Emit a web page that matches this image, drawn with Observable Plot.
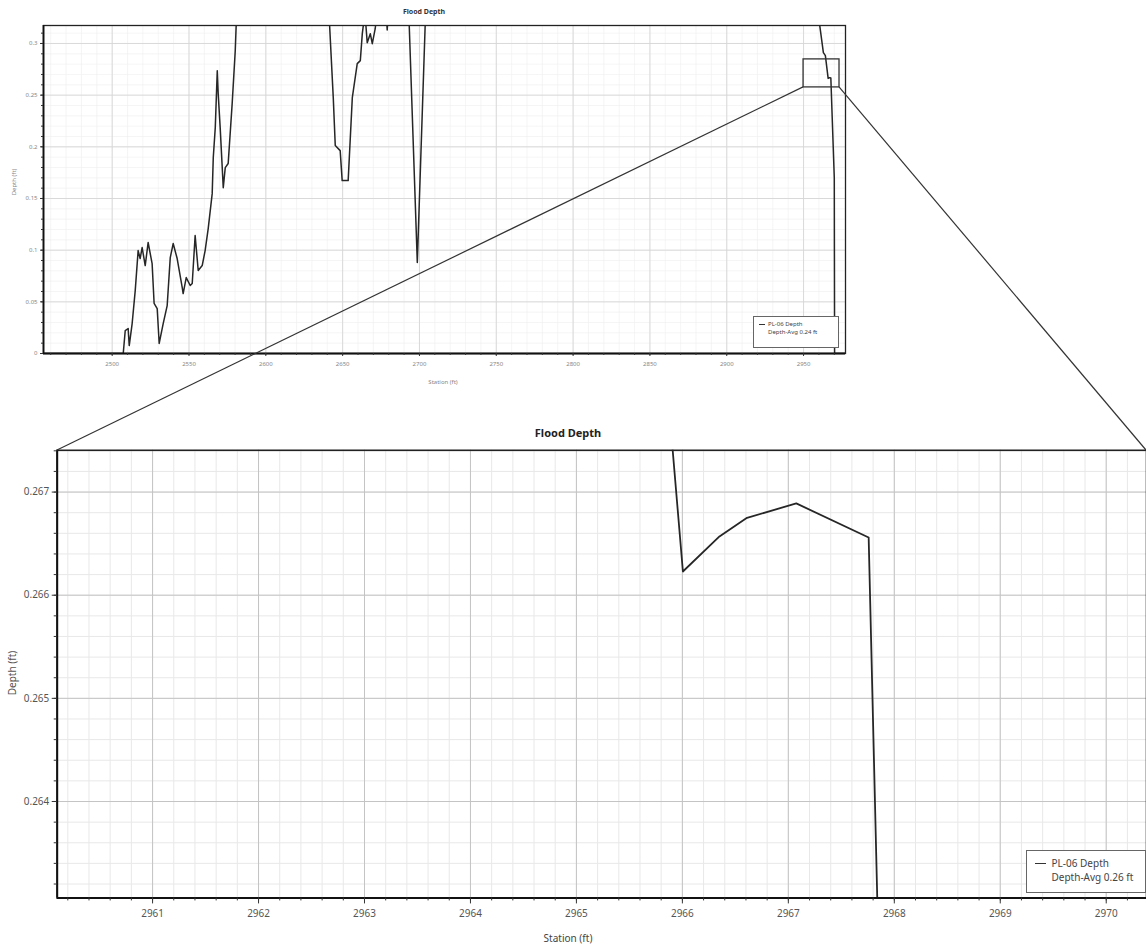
<!DOCTYPE html>
<html><head><meta charset="utf-8">
<script src="https://cdn.jsdelivr.net/npm/d3@7"></script>
<script src="https://cdn.jsdelivr.net/npm/@observablehq/plot@0.6"></script>
<style>
html,body{margin:0;padding:0;background:#fff;overflow:hidden}
#wrap{position:relative;width:1146px;height:949px;overflow:hidden;font-family:"Noto Sans",sans-serif}
#wrap svg{position:absolute}
.t{position:absolute;white-space:nowrap;transform:translate(-50%,-50%);line-height:1}
.lg{position:absolute;border:1px solid #666;background:#fff;box-sizing:border-box;color:#444;line-height:1.45}
.lg .dash{display:inline-block;vertical-align:middle;border-top:1px solid #333}
</style></head><body><div id="wrap"></div>
<script>
// ---- data ----
const station = [2456, 2507.2, 2508.5, 2510.4, 2511.1, 2513.0, 2515.0, 2516.9, 2518.2, 2519.5, 2521.5, 2523.4,
  2526.0, 2527.3, 2529.3, 2530.6, 2533.2, 2535.8, 2537.8, 2539.7, 2542.3, 2545.6, 2546.2, 2548.2, 2550.8,
  2552.1, 2554.0, 2556.0, 2558.6, 2560.5, 2562.5, 2565.1, 2565.8, 2567.1, 2568.4, 2569.0, 2570.3, 2572.3,
  2573.6, 2575.5, 2578.1, 2580.1, 2584, 2637, 2643.9, 2645.2, 2648.4, 2649.7, 2653.6, 2656.3, 2659.5,
  2661.5, 2662.8, 2664.5, 2666.0, 2668.0, 2669.3, 2671.2, 2673, 2678, 2679, 2680, 2691, 2698.6, 2706,
  2958.5, 2962.9, 2964.2, 2966.005, 2966.35, 2966.61, 2967.075, 2967.758, 2970.0, 2970.2, 2977];
const depth = [0, 0, 0.0222, 0.0242, 0.0077, 0.029, 0.0609, 0.0996, 0.0919, 0.1025, 0.0851, 0.1074,
  0.0870, 0.0484, 0.0435, 0.0097, 0.029, 0.0464, 0.0928, 0.1064, 0.0919, 0.0638, 0.058, 0.0735, 0.0658,
  0.0677, 0.1141, 0.0803, 0.0851, 0.0996, 0.1209, 0.1547, 0.1896, 0.2186, 0.2737, 0.2515, 0.2186, 0.1605,
  0.1799, 0.1838, 0.2418, 0.293, 0.45, 0.45, 0.2476, 0.2012, 0.1963, 0.1673, 0.1673, 0.2476, 0.2805,
  0.2834, 0.3095, 0.33, 0.3008, 0.3095, 0.2998, 0.3143, 0.34, 0.34, 0.313, 0.34, 0.42, 0.088, 0.42,
  0.34, 0.2911, 0.2882, 0.26623, 0.26657, 0.26675, 0.26689, 0.266559, 0.17, 0, 0];

const overviewXTicks = [2500, 2550, 2600, 2650, 2700, 2750, 2800, 2850, 2900, 2950];
const overviewYTicks = [0, 0.05, 0.1, 0.15, 0.2, 0.25, 0.3];
const overviewXDomain = [2455.3, 2977.3];
const overviewYDomain = [0, 0.3174];

const zoomXTicks = [2961, 2962, 2963, 2964, 2965, 2966, 2967, 2968, 2969, 2970];
const zoomYTicks = [0.264, 0.265, 0.266, 0.267];
const zoomXDomain = [2960.10, 2970.38];
const zoomYDomain = [0.263065, 0.267405];

const zoomBoxX = [2950, 2973.4];
const zoomBoxY = [0.2575, 0.2846];

const chartTitle = "Flood Depth";
const xTitle = "Station (ft)";
const yTitle = "Depth (ft)";
const seriesName = "PL-06 Depth";
const overviewAvg = "Depth-Avg 0.24 ft";
const zoomAvg = "Depth-Avg 0.26 ft";

const data = station.map((s, i) => ({station: s, depth: depth[i]}));
const FONT = '"Noto Sans", sans-serif';
const PAGE_W = 1146;
const wrap = document.getElementById("wrap");

function rng(a, b, step) { const n = Math.round((b - a) / step); return d3.range(n + 1).map(i => +(a + i * step).toFixed(6)); }

// ---- overview chart ----
const ovPlot = Plot.plot({
  width: 860, height: 392,
  marginLeft: 43, marginRight: 15, marginTop: 25, marginBottom: 39,
  style: {fontFamily: FONT, fontSize: "6px", color: "#888", background: "transparent", overflow: "visible"},
  x: {domain: overviewXDomain, label: null},
  y: {domain: overviewYDomain, label: null},
  marks: [
    Plot.gridX(rng(2460, 2970, 10), {stroke: "#eeeeee", strokeOpacity: 1, strokeWidth: 0.6}),
    Plot.gridY(rng(0.01, 0.31, 0.01), {stroke: "#eeeeee", strokeOpacity: 1, strokeWidth: 0.6}),
    Plot.gridX(overviewXTicks, {stroke: "#d6d6d6", strokeOpacity: 1, strokeWidth: 0.9}),
    Plot.gridY(overviewYTicks, {stroke: "#d6d6d6", strokeOpacity: 1, strokeWidth: 0.9}),
    Plot.line(data, {x: "station", y: "depth", stroke: "#262626", strokeWidth: 1.5, clip: true}),
    Plot.rect([{}], {x1: () => zoomBoxX[0], x2: () => zoomBoxX[1], y1: () => zoomBoxY[0], y2: () => zoomBoxY[1], fill: "none", stroke: "#333", strokeWidth: 1.3}),
    Plot.frame({stroke: "#222", strokeWidth: 1.3}),
    Plot.ruleX([overviewXDomain[0]], {stroke: "#111", strokeWidth: 1.8}),
    Plot.ruleY([overviewYDomain[0]], {stroke: "#111", strokeWidth: 1.8}),
    Plot.axisX({ticks: rng(2460, 2970, 10), tickSize: 2, tickFormat: () => "", label: null, stroke: "#333"}),
    Plot.axisY({ticks: rng(0.01, 0.31, 0.01), tickSize: 2, tickFormat: () => "", label: null, stroke: "#333"}),
    Plot.axisX({ticks: overviewXTicks, tickSize: 3, tickPadding: 5, tickFormat: d => String(d), label: null, stroke: "#333", fill: "#888"}),
    Plot.axisY({ticks: overviewYTicks, tickSize: 3, tickPadding: 3, tickFormat: d => String(d), label: null, stroke: "#333", fill: "#888"})
  ]
});
ovPlot.style.left = "0px"; ovPlot.style.top = "0px";
wrap.appendChild(ovPlot);

// ---- zoomed chart ----
const BOT_TOP = 410;
const zmPlot = Plot.plot({
  width: 1152, height: 539,
  marginLeft: 57, marginRight: 0, marginTop: 40, marginBottom: 49,
  style: {fontFamily: FONT, fontSize: "10px", color: "#555", background: "transparent", overflow: "visible"},
  x: {domain: zoomXDomain, label: null},
  y: {domain: zoomYDomain, label: null},
  marks: [
    Plot.gridX(rng(2960.2, 2970.2, 0.2), {stroke: "#e8e8e8", strokeOpacity: 1, strokeWidth: 1}),
    Plot.gridY(rng(0.2632, 0.2674, 0.0002), {stroke: "#e8e8e8", strokeOpacity: 1, strokeWidth: 1}),
    Plot.gridX(zoomXTicks, {stroke: "#c4c4c4", strokeOpacity: 1, strokeWidth: 1}),
    Plot.gridY(zoomYTicks, {stroke: "#c4c4c4", strokeOpacity: 1, strokeWidth: 1}),
    Plot.line(data, {x: "station", y: "depth", stroke: "#262626", strokeWidth: 1.8, clip: true}),
    Plot.frame({stroke: "#222", strokeWidth: 1.6}),
    Plot.ruleX([zoomXDomain[0]], {stroke: "#111", strokeWidth: 2}),
    Plot.ruleY([zoomYDomain[0]], {stroke: "#111", strokeWidth: 2}),
    Plot.axisX({ticks: rng(2960.2, 2970.2, 0.2), tickSize: 3, tickFormat: () => "", label: null, stroke: "#333"}),
    Plot.axisY({ticks: rng(0.2632, 0.2674, 0.0002), tickSize: 3, tickFormat: () => "", label: null, stroke: "#333"}),
    Plot.axisX({ticks: zoomXTicks, tickSize: 6, tickPadding: 6, tickFormat: d => String(d), label: null, stroke: "#333", fill: "#555"}),
    Plot.axisY({ticks: zoomYTicks, tickSize: 5, tickPadding: 3, tickFormat: d3.format(".3f"), label: null, stroke: "#333", fill: "#555"})
  ]
});
zmPlot.style.left = "0px"; zmPlot.style.top = BOT_TOP + "px";
wrap.appendChild(zmPlot);

// ---- texts ----
function txt(s, x, y, css) {
  const d = document.createElement("div"); d.className = "t"; d.textContent = s;
  d.style.left = x + "px"; d.style.top = y + "px"; Object.assign(d.style, css || {});
  wrap.appendChild(d); return d;
}
const tx = ovPlot.scale("x"), ty = ovPlot.scale("y"), bx = zmPlot.scale("x"), by = zmPlot.scale("y");
const topFrameL = tx.range[0], topFrameR = tx.range[1], topFrameB = Math.max(...ty.range);
const botFrameL = bx.range[0], botFrameR = bx.range[1], botFrameT = Math.min(...by.range) + BOT_TOP, botFrameB = Math.max(...by.range) + BOT_TOP;

txt(chartTitle, 424, 11, {fontSize: "7px", fontWeight: "bold", color: "#333"});
txt(xTitle, (topFrameL + topFrameR) / 2 - 1, topFrameB + 29, {fontSize: "6px", color: "#888"});
txt(yTitle, 14, 182, {fontSize: "6px", color: "#888", transform: "translate(-50%,-50%) rotate(-90deg)"});

txt(chartTitle, 568, 432, {fontSize: "11px", fontWeight: "bold", color: "#222"});
txt(xTitle, 568, botFrameB + 38, {fontSize: "10px", color: "#444"});
txt(yTitle, 12, 673, {fontSize: "10px", color: "#555", transform: "translate(-50%,-50%) rotate(-90deg)"});

// legends
function legend(x, y, w, h, fs, dashW, line2) {
  const d = document.createElement("div"); d.className = "lg";
  Object.assign(d.style, {left: x + "px", top: y + "px", width: w + "px", height: h + "px", fontSize: fs + "px", padding: (fs * 0.45) + "px " + (fs * 0.5) + "px 0 " + (fs * 0.75) + "px"});
  d.innerHTML = `<div><span class="dash" style="width:${dashW}px;margin-right:${fs * 0.6}px"></span>${seriesName}</div>` +
    `<div style="padding-left:${dashW + fs * 0.6}px">${line2}</div>`;
  wrap.appendChild(d);
}
legend(753, 316, 86, 32, 6, 6, overviewAvg);
legend(1026, 850, 120, 43, 10, 11, zoomAvg);

// ---- connector lines (overview box -> zoomed frame) ----
const ov = d3.select(wrap).append("svg").attr("width", PAGE_W).attr("height", 949).style("left", "0px").style("top", "0px").style("pointer-events", "none");
const boxL = tx.apply(zoomBoxX[0]), boxR = tx.apply(zoomBoxX[1]), boxB = ty.apply(zoomBoxY[0]);
ov.append("line").attr("x1", boxL).attr("y1", boxB).attr("x2", botFrameL).attr("y2", botFrameT).attr("stroke", "#333").attr("stroke-width", 1.2);
ov.append("line").attr("x1", boxR).attr("y1", boxB).attr("x2", Math.min(botFrameR, PAGE_W)).attr("y2", botFrameT).attr("stroke", "#333").attr("stroke-width", 1.2);
</script></body></html>
